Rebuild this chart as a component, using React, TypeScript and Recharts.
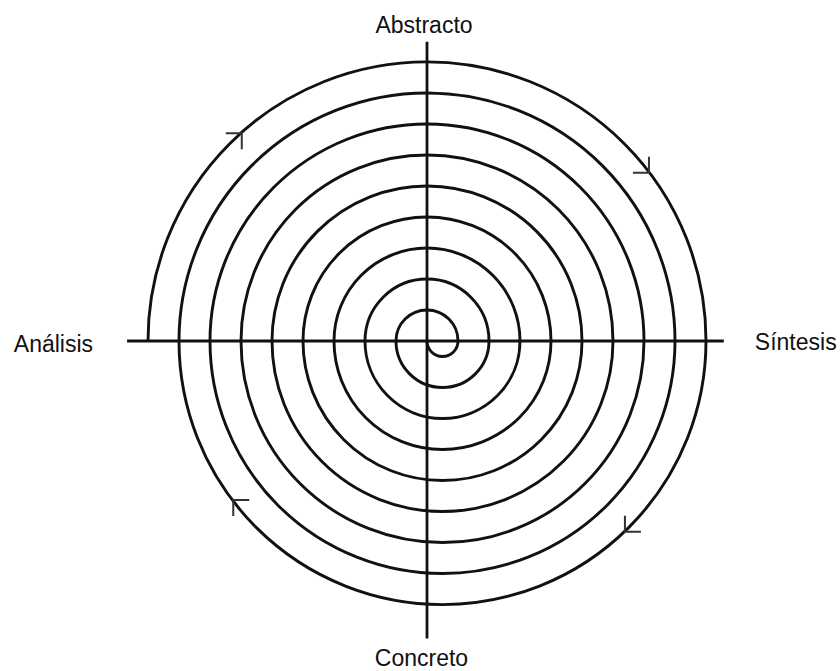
import React from "react";
import { ComposedChart, Line, Scatter, XAxis, YAxis, ReferenceLine, ReferenceDot } from "recharts";

// Where the spiral crosses the horizontal axis, in spiral steps, from the centre outwards
const spiralCrossings = [0, 2, -2, 4, -4, 6, -6, 8, -8, 10, -10, 12, -12, 14, -14, 16, -16, 18, -18];

// Pole labels: top, right, bottom, left
const poleLabels = ["Abstracto", "Síntesis", "Concreto", "Análisis"];

// Small arrow ticks on the outer turn (heading = direction of travel)
const arrowX = [-11.95, 14.32, 12.77, -12.5];
const arrowY = [13.4, 10.86, -12.3, -10.26];
const arrowHeading = ["NE", "SE", "SW", "NW"];

const spiralData = spiralCrossings.map((x) => ({ x, y: 0 }));
const arrowData = arrowX.map((x, i) => ({ x, y: arrowY[i], heading: arrowHeading[i] }));

const INK = "#111";
const FONT = "'Liberation Sans', Arial, sans-serif";

// d3 curve: joins consecutive points with half circles, turning the same way each time
const halfTurnCurve = (context: any) => {
    let prev: [number, number] | null = null;
    return {
        areaStart() {},
        areaEnd() {},
        lineStart() {
            prev = null;
        },
        lineEnd() {},
        point(x: number, y: number) {
            x = +x;
            y = +y;
            if (!prev) {
                context.moveTo(x, y);
            } else {
                const cx = (prev[0] + x) / 2;
                const r = Math.abs(x - prev[0]) / 2;
                const a0 = x > prev[0] ? Math.PI : 0;
                context.arc(cx, prev[1], r, a0, a0 - Math.PI, true);
            }
            prev = [x, y];
        },
    };
};

const ArrowTick = (props: any) => {
    const { cx, cy, payload } = props;
    const h: string = payload.heading;
    const sx = h.includes("E") ? -1 : 1;
    const sy = h.includes("N") ? 1 : -1;
    const len = 16;
    return (
        <path
            d={`M${cx + sx * len},${cy} L${cx},${cy} L${cx},${cy + sy * len}`}
            fill="none"
            stroke="#333"
            strokeWidth={2}
        />
    );
};

const labelShape = (text: string, dx: number, dy: number, anchor: string) => (p: any) => (
    <text x={p.cx + dx} y={p.cy + dy} textAnchor={anchor} fontFamily={FONT} fontSize={23} fill="#111">
        {text}
    </text>
);

const axisLeft = -19.35;
const axisRight = 19.15;
const axisTop = 19.3;
const axisBottom = -19.2;

export default function App() {
    return (
        <div style={{ position: "absolute", left: 0, top: 0, width: 840, height: 671, background: "#fff" }}>
            <ComposedChart width={840} height={671} margin={{ top: 31, right: 103, bottom: 20, left: 117 }}>
                <XAxis type="number" dataKey="x" domain={[-20, 20]} allowDataOverflow hide />
                <YAxis type="number" dataKey="y" domain={[-20, 20]} allowDataOverflow hide />
                <ReferenceLine
                    segment={[{ x: axisLeft, y: 0 }, { x: axisRight, y: 0 }]}
                    stroke={INK}
                    strokeWidth={2.8}
                    ifOverflow="visible"
                />
                <ReferenceLine
                    segment={[{ x: 0, y: axisBottom }, { x: 0, y: axisTop }]}
                    stroke={INK}
                    strokeWidth={2.8}
                    ifOverflow="visible"
                />
                <Line
                    data={spiralData}
                    dataKey="y"
                    type={halfTurnCurve as any}
                    stroke={INK}
                    strokeWidth={2.9}
                    dot={false}
                    activeDot={false}
                    isAnimationActive={false}
                />
                <Scatter data={arrowData} dataKey="y" shape={ArrowTick} isAnimationActive={false} />
                <ReferenceDot x={0} y={axisTop} ifOverflow="visible" shape={labelShape(poleLabels[0], -3, -9, "middle")} />
                <ReferenceDot x={axisRight} y={0} ifOverflow="visible" shape={labelShape(poleLabels[1], 31, 9, "start")} />
                <ReferenceDot x={0} y={axisBottom} ifOverflow="visible" shape={labelShape(poleLabels[2], -5.5, 27.5, "middle")} />
                <ReferenceDot x={axisLeft} y={0} ifOverflow="visible" shape={labelShape(poleLabels[3], -34, 11, "end")} />
            </ComposedChart>
        </div>
    );
}
